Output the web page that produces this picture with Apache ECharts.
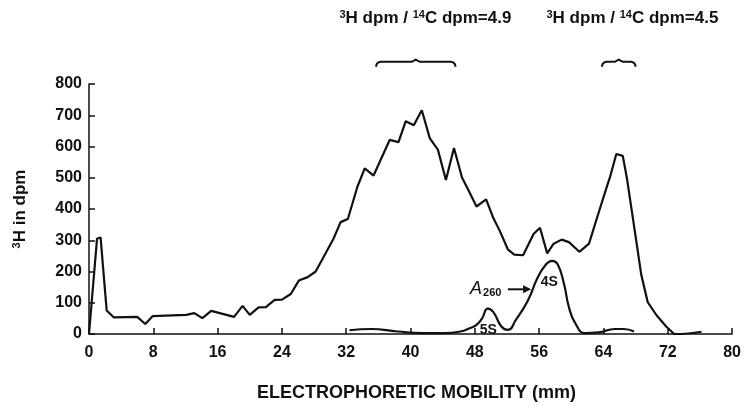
<!DOCTYPE html>
<html><head><meta charset="utf-8">
<script src="https://cdn.jsdelivr.net/npm/echarts@6/dist/echarts.min.js"></script>
<style>html,body{margin:0;padding:0;background:#fff}#c{width:744px;height:407px}</style>
</head><body><div id="c"></div>
<script>
// 3H dpm vs electrophoretic mobility (mm)
const tritium = [
  [0.0,0],[1.0,305],[1.44,309],[2.2,75],[3.1,53],[6.0,55],[7.0,32],[7.9,57],[12.1,61],[13.1,67],[14.1,51],
  [15.2,74],[18.05,55],[19.1,90],[20.0,61],[21.1,85],[22.0,86],[23.1,109],[24.0,110],[25.1,128],[26.1,171],
  [27.2,182],[28.2,200],[29.3,252],[30.4,304],[31.3,358],[32.2,368],[33.4,472],[34.3,530],[35.4,507],
  [36.4,564],[37.4,621],[38.5,614],[39.4,681],[40.4,668],[41.4,716],[42.4,626],[43.4,590],[44.4,493],
  [45.4,595],[46.4,501],[47.3,455],[48.2,408],[49.4,431],[50.3,371],[51.1,330],[52.1,271],[52.9,254],
  [54.0,252],[55.3,320],[56.1,340],[57.0,258],[57.8,289],[58.8,302],[59.7,294],[61.0,263],[62.2,289],
  [63.2,372],[64.4,470],[64.8,501],[65.6,576],[66.4,570],[66.9,501],[67.5,398],[68.1,294],[68.7,190],
  [69.5,102],[70.6,60],[71.8,24],[72.8,0],[74.0,0]
];
const tritiumTail = [[73.0,0],[74.5,2],[75.5,5],[76.2,7]];
// A260 absorbance trace (plotted on same scale)
const a260 = [
  [32.4,12],[35.1,16],[38.4,8],[41.6,3],[44.1,3],[46.2,8],[47.4,19],[48.2,29],[48.9,50],[49.6,81],
  [50.3,70],[51.3,24],[52.1,13],[53.1,45],[54.6,107],[55.8,180],[56.8,221],[57.6,234],[58.3,223],
  [59.1,159],[59.7,86],[60.5,34],[61.7,3],[63.4,5],[65.4,16],[66.5,16],[67.8,8]
];
const xTicks = {min:0, max:80, interval:8};
const yTicks = {min:0, max:800, interval:100};
const braces = [[35.7,45.6,871],[63.8,68.0,871]];
const ratioLabels = [
  {x:41.85, v:1010, h:'3', c:'14', val:'4.9'},
  {x:67.6, v:1010, h:'3', c:'14', val:'4.5'}
];
const notes = {a260:[47.4,143], arrow:[[52.1,143],[55.0,143]], s4:[56.2,165], s5:[48.6,12]};

const FF = '"Liberation Sans", Arial, sans-serif';
const ink = '#111';
const chart = echarts.init(document.getElementById('c'), null, {renderer:'canvas'});
chart.setOption({
  animation:false,
  grid:{left:89, right:7, top:84, bottom:65},
  xAxis:{type:'value', min:xTicks.min, max:xTicks.max, interval:xTicks.interval,
    name:'ELECTROPHORETIC MOBILITY (mm)', nameLocation:'middle', nameGap:50,
    nameTextStyle:{fontFamily:FF, fontSize:18, fontWeight:'bold', color:ink, padding:[0,0,0,12]},
    axisLine:{lineStyle:{color:ink, width:1.5}},
    axisTick:{inside:true, length:6, lineStyle:{color:ink, width:1.5}},
    axisLabel:{fontFamily:FF, fontSize:16, fontWeight:'bold', color:ink, margin:11},
    splitLine:{show:false}},
  yAxis:{type:'value', min:yTicks.min, max:yTicks.max, interval:yTicks.interval,
    name:'{s|3}{n|H in dpm}', nameLocation:'middle', nameGap:60, nameRotate:90,
    nameTextStyle:{fontFamily:FF, color:ink, rich:{
      s:{fontFamily:FF, fontSize:11, fontWeight:'bold', color:ink, verticalAlign:'top', padding:[0,0,7,0]},
      n:{fontFamily:FF, fontSize:17, fontWeight:'bold', color:ink}}},
    axisLine:{show:true, lineStyle:{color:ink, width:1.5}},
    axisTick:{show:true, inside:true, length:6, lineStyle:{color:ink, width:1.5}},
    axisLabel:{fontFamily:FF, fontSize:16, fontWeight:'bold', color:ink, margin:7},
    splitLine:{show:false}},
  series:[
    {type:'line', data:tritium, symbol:'none', lineStyle:{color:ink, width:2.2}, z:3},
    {type:'line', data:tritiumTail, symbol:'none', smooth:true, lineStyle:{color:ink, width:2}, z:3},
    {type:'line', data:a260, symbol:'none', smooth:0.5, lineStyle:{color:ink, width:2.2}, z:3}
  ]
});

const P = (x,v)=>chart.convertToPixel({gridIndex:0}, [x,v]);
const g = [];
braces.forEach(b=>{
  const a=P(b[0],b[2]), c=P(b[1],b[2]);
  const y=a[1], x1=a[0], x2=c[0], m=(x1+x2)/2;
  g.push({type:'polyline', shape:{points:[[x1,y+5],[x1+0.6,y+2.5],[x1+2,y+0.8],[x1+4.5,y],[m-4,y],[m,y-2.2],[m+4,y],[x2-4.5,y],[x2-2,y+0.8],[x2-0.6,y+2.5],[x2,y+5]]},
    style:{fill:null, stroke:ink, lineWidth:2}});
});
ratioLabels.forEach(r=>{
  const p=P(r.x,r.v);
  g.push({type:'text', x:p[0], y:p[1], style:{
    text:`{s|${r.h}}{n|H dpm / }{s|${r.c}}{n|C dpm=${r.val}}`,
    align:'center', verticalAlign:'middle', fontFamily:FF, fill:ink,
    rich:{s:{fontFamily:FF, fontSize:11, fontWeight:'bold', fill:ink, verticalAlign:'top', padding:[0,0,7,0]},
          n:{fontFamily:FF, fontSize:17, fontWeight:'bold', fill:ink}}}});
});
{
  const p=P(notes.a260[0],notes.a260[1]);
  g.push({type:'text', x:p[0], y:p[1], style:{text:'{a|A}{b|260}', verticalAlign:'middle', fill:ink,
    rich:{a:{fontFamily:FF, fontSize:18, fontStyle:'italic', fill:ink},
          b:{fontFamily:FF, fontSize:11, fontWeight:'bold', fill:ink, verticalAlign:'bottom', padding:[8,0,0,1]}}}});
  const a=P(...notes.arrow[0]), b=P(...notes.arrow[1]);
  g.push({type:'line', shape:{x1:a[0],y1:a[1],x2:b[0]-6,y2:b[1]}, style:{stroke:ink, lineWidth:2}});
  g.push({type:'polygon', shape:{points:[[b[0],b[1]],[b[0]-8,b[1]-4],[b[0]-8,b[1]+4]]}, style:{fill:ink}});
  const s4=P(...notes.s4);
  g.push({type:'text', x:s4[0], y:s4[1], style:{text:'4S', verticalAlign:'middle', fontFamily:FF, fontSize:14, fontWeight:'bold', fill:ink}});
  const s5=P(...notes.s5);
  g.push({type:'text', x:s5[0], y:s5[1], style:{text:'5S', verticalAlign:'middle', fontFamily:FF, fontSize:14, fontWeight:'bold', fill:ink}});
}
chart.setOption({graphic:g});
</script></body></html>
